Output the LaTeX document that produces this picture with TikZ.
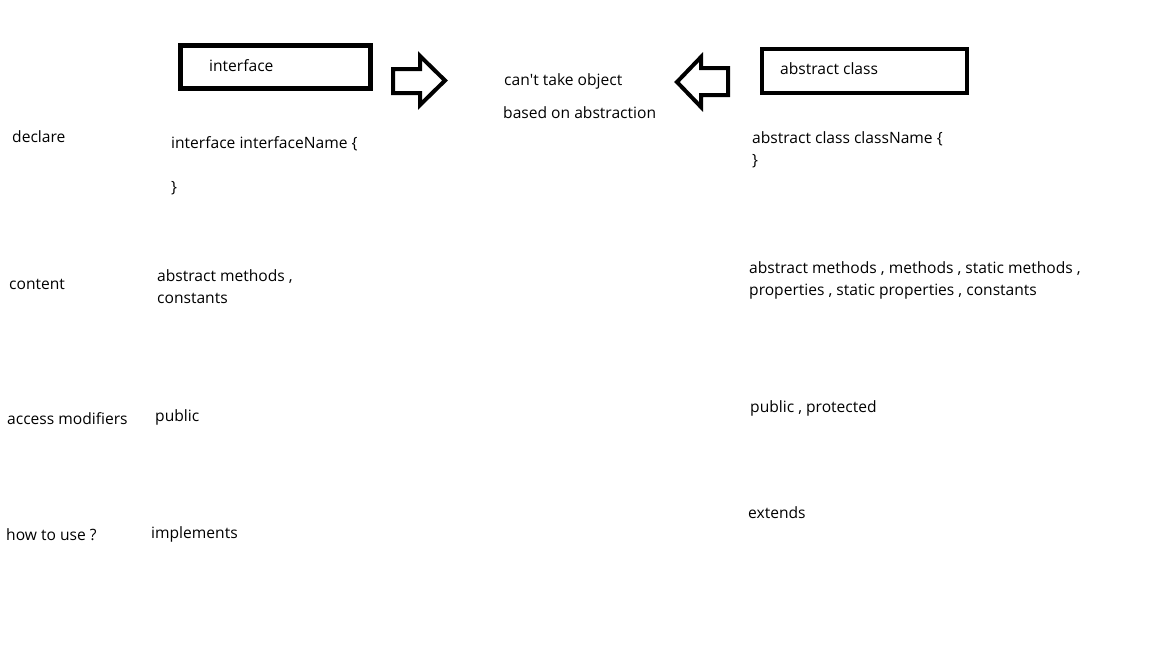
\documentclass[tikz,border=0pt]{standalone}
\usepackage{fontspec}
\setmainfont{Open Sans}[Ligatures={NoCommon}]
\begin{document}
\begin{tikzpicture}[x=1pt,y=-1pt,
  txt/.style={anchor=base west,inner sep=0pt,font=\fontsize{15.6}{18}\selectfont},
  titlebox/.style={draw,line width=4.5pt},
  blockarrow/.style={draw,line width=4pt,miter limit=10}]
\useasboundingbox[fill=white] (0,0) rectangle (1152,648);

% title boxes
\draw[titlebox] (180.5,45.5) rectangle (370.5,88.5);
\draw[titlebox] (762,49) rectangle (967,93);
\node[txt] (tif) at (209,71) {interface};
\node[txt] (tab) at (780,74) {abstract class};

% block arrows pointing at the shared notes
\draw[blockarrow] (393,69) -- (420,69) -- (420,56) -- (445,80.5) -- (420,105) -- (420,93) -- (393,93) -- cycle;
\draw[blockarrow] (728,68) -- (701,68) -- (701,57) -- (677,82) -- (701,107) -- (701,95) -- (728,95) -- cycle;

% shared notes
\node[txt] (n1) at (504,85) {can\textquotesingle t take object};
\node[txt] (n2) at (503,118) {based on abstraction};

% row labels
\node[txt] (l1) at (12,142) {declare};
\node[txt] (l2) at (9,289) {content};
\node[txt] (l3) at (7,424) {access modifiers};
\node[txt] (l4) at (6,540) {how to use ?};

% interface column
\node[txt] (i1) at (171,148) {interface interfaceName \{};
\node[txt] (i1b) at (171,192) {\}};
\node[txt] (i2) at (157,281) {abstract methods ,};
\node[txt] (i2b) at (157,303) {constants};
\node[txt] (i3) at (155,421) {public};
\node[txt] (i4) at (151,538) {implements};

% abstract class column
\node[txt] (a1) at (752,143) {abstract class className \{};
\node[txt] (a1b) at (752,165) {\}};
\node[txt] (a2) at (749,273) {abstract methods , methods , static methods ,};
\node[txt] (a2b) at (749,295) {properties , static properties , constants};
\node[txt] (a3) at (750,412) {public , protected};
\node[txt] (a4) at (748,518) {extends};
\end{tikzpicture}
\end{document}
